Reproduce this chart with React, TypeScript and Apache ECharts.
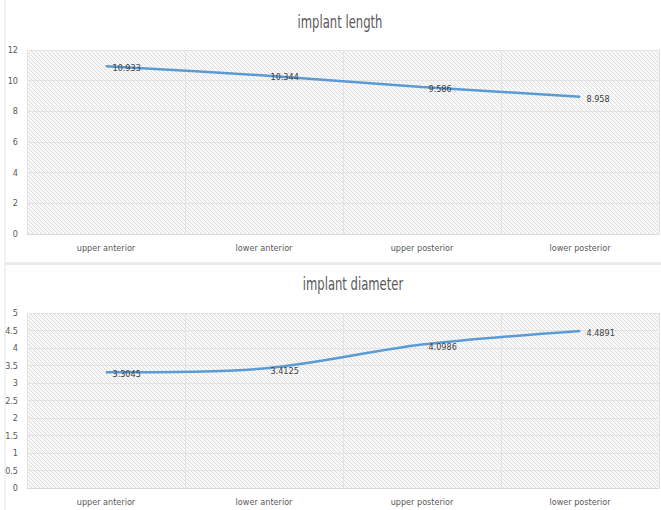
import React, { useEffect, useRef } from "react";
import * as echarts from "echarts";

const regions = ["upper anterior", "lower anterior", "upper posterior", "lower posterior"];
const lengthValues = [10.933, 10.344, 9.586, 8.958];
const diameterValues = [3.3045, 3.4125, 4.0986, 4.4891];
const lengthTitle = "implant length";
const diameterTitle = "implant diameter";

const FONT = "'Liberation Sans Narrow', 'DejaVu Sans Condensed', 'Open Sans', sans-serif";
const TEXT = "#595959";
const BLUE = "#5B9BD5";

const hatchSvg =
  "<svg xmlns='http://www.w3.org/2000/svg' width='4' height='4'>" +
  "<rect width='4' height='4' fill='#f8f8f8'/>" +
  "<path d='M-1,-1 L5,5 M-1,3 L1,5 M3,-1 L5,1' stroke='#dedede' stroke-width='1'/>" +
  "</svg>";
const hatchUrl = "data:image/svg+xml;charset=utf-8," + encodeURIComponent(hatchSvg);

const hatch: any = { image: hatchUrl, repeat: "repeat", imageWidth: 4, imageHeight: 4 };

function makeXAxis(gridIndex: number) {
  return {
    type: "category",
    gridIndex,
    data: regions,
    boundaryGap: true,
    axisLine: { show: true, lineStyle: { color: "#d9d9d9", width: 1 } },
    axisTick: { show: false },
    axisLabel: { color: TEXT, fontFamily: FONT, fontSize: 9, margin: 9 },
    splitLine: { show: true, lineStyle: { color: "#e3e3e3", width: 1 } },
  };
}

function makeYAxis(gridIndex: number, max: number, interval: number) {
  return {
    type: "value",
    gridIndex,
    min: 0,
    max,
    interval,
    axisLine: { show: false },
    axisTick: { show: false },
    axisLabel: { color: TEXT, fontFamily: FONT, fontSize: 9, margin: 9 },
    splitLine: { show: true, lineStyle: { color: "#e3e3e3", width: 1 } },
  };
}

function makeSeries(data: number[], idx: number) {
  return {
    type: "line",
    xAxisIndex: idx,
    yAxisIndex: idx,
    data,
    smooth: 0.3,
    symbol: "circle",
    symbolSize: 1,
    itemStyle: { color: BLUE },
    lineStyle: { color: BLUE, width: 2.5 },
    label: {
      show: true,
      position: "right",
      distance: 6,
      offset: [0, 2],
      color: "#404040",
      fontFamily: FONT,
      fontSize: 9,
    },
  };
}

function titleText(text: string, x: number, y: number) {
  return {
    type: "text",
    x,
    y,
    scaleX: 0.76,
    silent: true,
    style: {
      text,
      fill: TEXT,
      fontFamily: FONT,
      fontSize: 17,
      align: "center",
      verticalAlign: "middle",
    },
  };
}

export default function App() {
  const ref = useRef<HTMLDivElement>(null);

  useEffect(() => {
    if (!ref.current) return;
    const chart = echarts.init(ref.current, undefined, { renderer: "svg" });
    chart.setOption({
      animation: false,
      backgroundColor: "#ffffff",
      grid: [
        { left: 27, right: 2, top: 50, height: 184, show: true, borderWidth: 0, backgroundColor: hatch },
        { left: 27, right: 2, top: 313, height: 175, show: true, borderWidth: 0, backgroundColor: hatch },
      ],
      xAxis: [makeXAxis(0), makeXAxis(1)],
      yAxis: [makeYAxis(0, 12, 2), makeYAxis(1, 5, 0.5)],
      series: [makeSeries(lengthValues, 0), makeSeries(diameterValues, 1)],
      graphic: [
        titleText(lengthTitle, 340, 22),
        titleText(diameterTitle, 353, 284),
        {
          type: "rect",
          shape: { x: 5, y: 262, width: 656, height: 3 },
          style: { fill: "#ebebeb" },
          silent: true,
        },
        {
          type: "line",
          shape: { x1: 5, y1: 0, x2: 5, y2: 510 },
          style: { stroke: "#e6e6e6", lineWidth: 1 },
          silent: true,
        },
      ],
    });
    return () => chart.dispose();
  }, []);

  return (
    <div
      ref={ref}
      style={{ position: "fixed", left: 0, top: 0, width: 661, height: 510, background: "#fff" }}
    />
  );
}
